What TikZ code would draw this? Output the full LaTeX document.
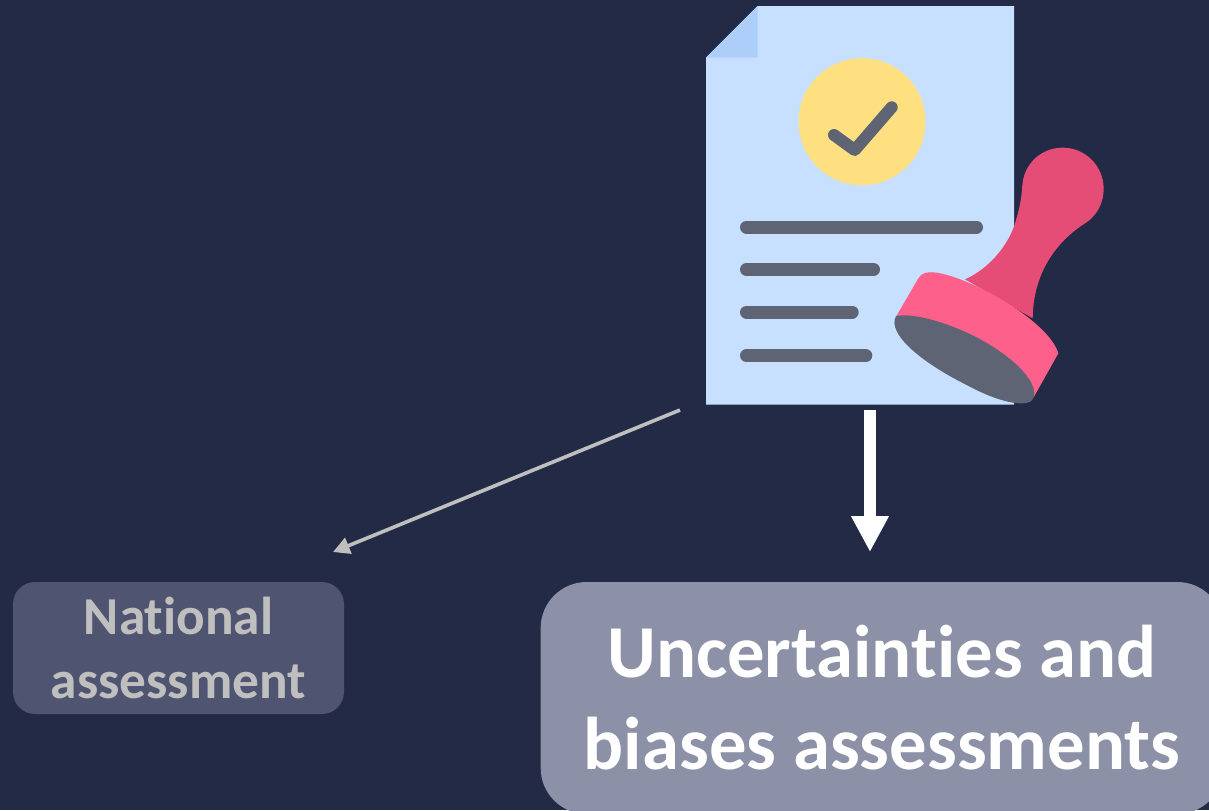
\documentclass[tikz,border=0pt]{standalone}
\usepackage{fontspec}
\setmainfont{Carlito}[Ligatures=NoCommon]
\usetikzlibrary{arrows.meta}
\definecolor{bg}{HTML}{222A46}
\definecolor{paper}{HTML}{C7E0FF}
\definecolor{fold}{HTML}{AECEFA}
\definecolor{seal}{HTML}{FEE080}
\definecolor{ink}{HTML}{5F6474}
\definecolor{handle}{HTML}{E54D76}
\definecolor{stampbody}{HTML}{FD608A}
\definecolor{boxdim}{HTML}{4F5470}
\definecolor{boxlit}{HTML}{8C91A8}
\definecolor{dimtext}{HTML}{BFBFBF}
\tikzset{
  lbox/.style={rounded corners=#1,align=center,inner sep=0pt,font=\bfseries},
  textline/.style={line width=9.75pt,line cap=round,draw=ink},
}
\begin{document}
\begin{tikzpicture}[x=0.75pt,y=-0.75pt]
\useasboundingbox (0,0) rectangle (1209,810);
\fill[bg] (0,0) rectangle (1209,810);
% document
\fill[paper] (706,57.5) -- (757.5,6) -- (1014,6) -- (1014,404.5) -- (706,404.5) -- cycle;
\fill[fold] (706,57.5) -- (757.5,6) -- (757.5,57.5) -- cycle;
\fill[seal] (862,121.7) circle [radius=63.5];
\draw[ink,line width=9pt,line cap=round,line join=round] (834,135) -- (854.7,150) -- (891.7,107.3);
\draw[textline] (746.5,227) -- (976.5,227);
\draw[textline] (746.5,269.5) -- (873.5,269.5);
\draw[textline] (746.5,312) -- (852.2,312);
\draw[textline] (746.5,355.7) -- (865.8,355.7);
% stamp, in 3x crop coordinates
\begin{scope}[shift={(690,0)},x=0.25pt,y=-0.25pt]
\fill[handle] (825,838) .. controls (900,805) and (960,730) .. (978,660)
  .. controls (990,620) and (995,590) .. (997,555)
  .. controls (1002,490) and (1055,443) .. (1118,443)
  .. controls (1185,443) and (1241,497) .. (1241,567)
  .. controls (1241,610) and (1220,648) .. (1185,670)
  .. controls (1130,705) and (1030,790) .. (1028,955) -- cycle;
\fill[stampbody] (618,950) -- (685,835) .. controls (695,818) and (710,816) .. (730,817)
  .. controls (830,825) and (1075,960) .. (1105,1060) -- (1032,1190) -- cycle;
\fill[ink] (618,948) .. controls (690,935) and (830,990) .. (900,1035)
  .. controls (990,1090) and (1040,1150) .. (1032,1190)
  .. controls (1025,1225) and (940,1215) .. (830,1155)
  .. controls (690,1085) and (590,1000) .. (618,948) -- cycle;
\end{scope}
% boxes
\node[lbox=16.5pt,fill=boxdim,text=dimtext,minimum width=248.25pt,minimum height=99pt,
  font=\bfseries\fontsize{40pt}{47.5pt}\selectfont] (national) at (178.5,648) {National\\assessment};
\node[lbox=34.5pt,fill=boxlit,text=white,minimum width=512pt,minimum height=174pt,
  font=\bfseries\fontsize{56pt}{69pt}\selectfont] (uncert) at (882,698) {Uncertainties and\\biases assessments};
% connectors
\coordinate (outa) at (680,410);
\coordinate (ina) at (333,552);
\coordinate (outb) at (870,410);
\coordinate (inb) at (870,552);
\draw[dimtext,line width=2.7pt,-{Triangle[width=12.5pt,length=12.5pt]}] (outa) -- (ina);
\draw[white,line width=9pt,-{Triangle[width=26.5pt,length=27pt]}] (outb) -- (inb);
\end{tikzpicture}
\end{document}
